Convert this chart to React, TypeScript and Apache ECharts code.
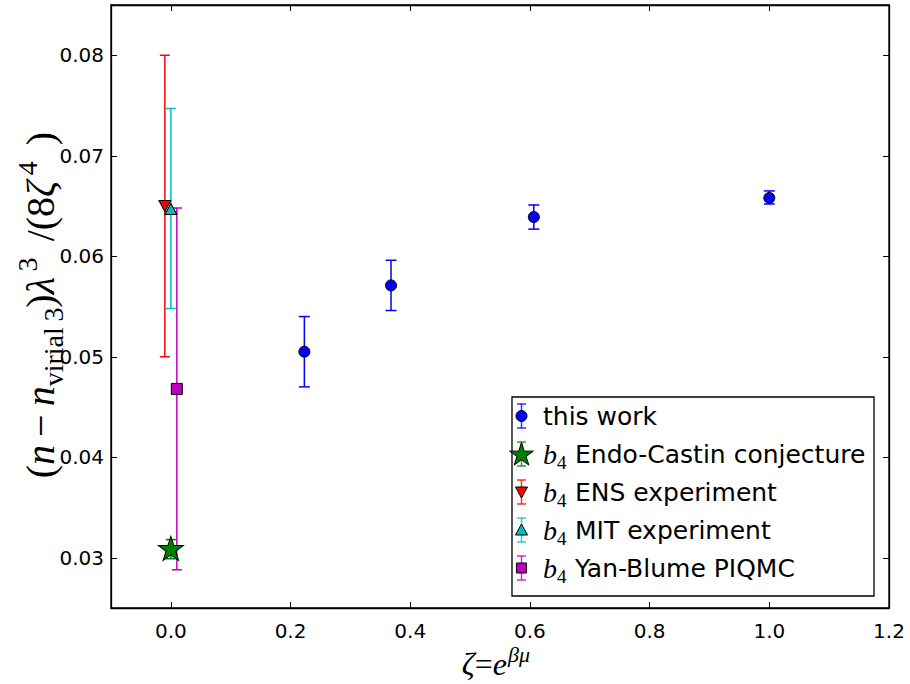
import React, { useEffect, useRef } from "react";
import * as echarts from "echarts";

// ---- data ----
const workX = [0.2231, 0.3679, 0.6065, 1.0];
const workY = [0.0505, 0.0571, 0.0639, 0.0658];
const workLo = [0.047, 0.0546, 0.0627, 0.0652];
const workHi = [0.054, 0.0596, 0.0651, 0.0665];

const endoX = [0.0];
const endoY = [0.0308];
const endoLo = [0.0299];
const endoHi = [0.0318];

const ensX = [-0.01];
const ensY = [0.065];
const ensLo = [0.05];
const ensHi = [0.08];

const mitX = [0.0];
const mitY = [0.0647];
const mitLo = [0.0548];
const mitHi = [0.0747];

const yanX = [0.01];
const yanY = [0.0468];
const yanLo = [0.0288];
const yanHi = [0.0648];

const xTicks = [0.0, 0.2, 0.4, 0.6, 0.8, 1.0, 1.2];
const yTicks = [0.03, 0.04, 0.05, 0.06, 0.07, 0.08];

const legendNames = [
  "this work",
  "Endo-Castin conjecture",
  "ENS experiment",
  "MIT experiment",
  "Yan-Blume PIQMC",
];

const C_WORK = "#0000ff";
const C_ENDO = "#008000";
const C_ENS = "#ff0000";
const C_MIT = "#00bfbf";
const C_YAN = "#bf00bf";

const STAR_PATH =
  "path://M0 -1 L0.2245 -0.309 L0.951 -0.309 L0.3633 0.118 L0.588 0.809 L0 0.382 L-0.588 0.809 L-0.3633 0.118 L-0.951 -0.309 L-0.2245 -0.309 Z";

const serif = "Liberation Serif";

function errSeries(name: string, xs: number[], ys: number[], lo: number[], hi: number[], color: string, cap: number) {
  return {
    type: "custom",
    name,
    data: xs.map((x, i) => [x, ys[i], lo[i], hi[i]]),
    encode: { x: 0, y: 1 },
    silent: true,
    renderItem: (params: any, api: any) => {
      const x = api.value(0);
      const top = api.coord([x, api.value(3)]);
      const bot = api.coord([x, api.value(2)]);
      const st = { stroke: color, lineWidth: 1.5 };
      return {
        type: "group",
        children: [
          { type: "line", shape: { x1: top[0], y1: top[1], x2: bot[0], y2: bot[1] }, style: st },
          { type: "line", shape: { x1: top[0] - cap, y1: top[1], x2: top[0] + cap, y2: top[1] }, style: st },
          { type: "line", shape: { x1: bot[0] - cap, y1: bot[1], x2: bot[0] + cap, y2: bot[1] }, style: st },
        ],
      };
    },
  };
}

function markSeries(name: string, xs: number[], ys: number[], color: string, symbol: string, size: any, extra: any = {}) {
  return {
    type: "scatter",
    name,
    data: xs.map((x, i) => [x, ys[i]]),
    symbol,
    symbolSize: size,
    itemStyle: { color, borderColor: "#000", borderWidth: 1, opacity: 1 },
    silent: true,
    ...extra,
  };
}

function starPoints(cx: number, cy: number, R: number) {
  const pts: number[][] = [];
  for (let k = 0; k < 10; k++) {
    const r = k % 2 === 0 ? R : R * 0.382;
    const a = (90 - 36 * k) * (Math.PI / 180);
    pts.push([cx + r * Math.cos(a), cy - r * Math.sin(a)]);
  }
  return pts;
}

function buildLegend() {
  const els: any[] = [];
  const bx = 512, by = 397, bw = 362, bh = 199;
  els.push({
    type: "rect",
    shape: { x: bx, y: by, width: bw, height: bh },
    style: { fill: "#fff", stroke: "#000", lineWidth: 1.3 },
    z: 100,
  });
  const rows = [416, 454, 492, 530, 568];
  const colors = [C_WORK, C_ENDO, C_ENS, C_MIT, C_YAN];
  const mx = 521.5;
  rows.forEach((ry, i) => {
    const c = colors[i];
    const st = { stroke: c, lineWidth: 1.5, opacity: 0.8 };
    els.push({ type: "line", shape: { x1: mx, y1: ry - 12, x2: mx, y2: ry + 12 }, style: st, z: 101 });
    els.push({ type: "line", shape: { x1: mx - 4.5, y1: ry - 12, x2: mx + 4.5, y2: ry - 12 }, style: st, z: 101 });
    els.push({ type: "line", shape: { x1: mx - 4.5, y1: ry + 12, x2: mx + 4.5, y2: ry + 12 }, style: st, z: 101 });
    const ms = { fill: c, stroke: "#000", lineWidth: 1 };
    if (i === 0) {
      els.push({ type: "circle", shape: { cx: mx, cy: ry, r: 5.5 }, style: ms, z: 102 });
    } else if (i === 1) {
      els.push({ type: "polygon", shape: { points: starPoints(mx, ry + 1, 12.5) }, style: ms, z: 102 });
    } else if (i === 2) {
      els.push({ type: "polygon", shape: { points: [[mx - 6, ry - 5], [mx + 6, ry - 5], [mx, ry + 6]] }, style: ms, z: 102 });
    } else if (i === 3) {
      els.push({ type: "polygon", shape: { points: [[mx - 6, ry + 5], [mx + 6, ry + 5], [mx, ry - 6]] }, style: ms, z: 102 });
    } else {
      els.push({ type: "rect", shape: { x: mx - 5, y: ry - 5, width: 10, height: 10 }, style: ms, z: 102 });
    }
    if (i === 0) {
      els.push({
        type: "text",
        x: 543,
        y: ry,
        style: { text: legendNames[i], fontFamily: "DejaVu Sans", fontSize: 25, fill: "#000", verticalAlign: "middle", align: "left" },
        z: 102,
      });
    } else {
      els.push({
        type: "text",
        x: 543,
        y: ry,
        style: { text: "b", fontFamily: serif, fontStyle: "italic", fontSize: 28, fill: "#000", verticalAlign: "middle", align: "left" },
        z: 102,
      });
      els.push({
        type: "text",
        x: 557,
        y: ry + 8,
        style: { text: "4", fontFamily: serif, fontSize: 19, fill: "#000", verticalAlign: "middle", align: "left" },
        z: 102,
      });
      els.push({
        type: "text",
        x: 575,
        y: ry,
        style: { text: legendNames[i], fontFamily: "DejaVu Sans", fontSize: 25, fill: "#000", verticalAlign: "middle", align: "left" },
        z: 102,
      });
    }
  });
  return els;
}

function buildAxisTitles() {
  const yMain = 40;
  const ySmall = 28;
  const yTitle = {
    type: "text",
    x: 40,
    y: 305,
    rotation: Math.PI / 2,
    style: {
      text: "{p|(}{i|n}{p|\u2009−\u2009}{i|n}{sub|virial\u20093}{p|)}{i|λ}{sup|\u20093}{p|\u2009\u2009/(8}{i|ζ}{sup|\u20094}{p|\u2009\u2009)}",
      align: "center",
      verticalAlign: "middle",
      fill: "#000",
      rich: {
        p: { fontFamily: serif, fontSize: yMain, lineHeight: 54, verticalAlign: "middle" },
        i: { fontFamily: serif, fontStyle: "italic", fontSize: yMain, lineHeight: 54, verticalAlign: "middle" },
        sup: { fontFamily: serif, fontSize: ySmall, lineHeight: 26, verticalAlign: "top" },
        sub: { fontFamily: serif, fontSize: ySmall, lineHeight: 34, verticalAlign: "bottom" },
      },
    },
    z: 50,
  };
  const xMain = {
    type: "text",
    x: 507,
    y: 664,
    style: {
      text: "{i|ζ}{p|=}{i|e}",
      align: "right",
      verticalAlign: "middle",
      fill: "#000",
      rich: {
        p: { fontFamily: serif, fontSize: 32, verticalAlign: "middle" },
        i: { fontFamily: serif, fontStyle: "italic", fontSize: 32, verticalAlign: "middle" },
      },
    },
    z: 50,
  };
  const xSup = {
    type: "text",
    x: 508,
    y: 643,
    style: {
      text: "βμ",
      align: "left",
      verticalAlign: "top",
      fill: "#000",
      fontFamily: serif,
      fontStyle: "italic",
      fontSize: 22,
    },
    z: 50,
  };
  return [yTitle, xMain, xSup];
}

export default function App() {
  const ref = useRef<HTMLDivElement>(null);
  useEffect(() => {
    if (!ref.current) return;
    const chart = echarts.init(ref.current, null, { renderer: "svg" });
    const axisLine = { show: true, onZero: false, lineStyle: { color: "#000", width: 1.3 } };
    const baseX = {
      type: "value",
      min: -0.1,
      max: 1.2,
      splitLine: { show: false },
      axisLine,
    };
    const baseY = {
      type: "value",
      min: 0.025,
      max: 0.085,
      splitLine: { show: false },
      axisLine,
    };
    const tickStyle = { color: "#000", width: 1 };
    const option: any = {
      animation: false,
      backgroundColor: "#fff",
      grid: {
        left: 111,
        right: 21,
        top: 5,
        bottom: 76,
        show: true,
        borderColor: "#000",
        borderWidth: 1.3,
        backgroundColor: "transparent",
        outerBoundsMode: "none",
        containLabel: false,
      },
      xAxis: [
        {
          ...baseX,
          position: "bottom",
          axisTick: { show: true, inside: true, length: 6, customValues: xTicks, lineStyle: tickStyle },
          axisLabel: {
            show: true,
            customValues: xTicks,
            formatter: (v: number) => v.toFixed(1),
            fontFamily: "DejaVu Sans",
            fontSize: 20,
            color: "#000",
            margin: 13,
          },
        },
        {
          ...baseX,
          position: "top",
          axisTick: { show: true, inside: true, length: 6, customValues: xTicks, lineStyle: tickStyle },
          axisLabel: { show: false },
        },
      ],
      yAxis: [
        {
          ...baseY,
          position: "left",
          axisTick: { show: true, inside: true, length: 6, customValues: yTicks, lineStyle: tickStyle },
          axisLabel: {
            show: true,
            customValues: yTicks,
            formatter: (v: number) => v.toFixed(2),
            fontFamily: "DejaVu Sans",
            fontSize: 20,
            color: "#000",
            margin: 7,
          },
        },
        {
          ...baseY,
          position: "right",
          axisTick: { show: true, inside: true, length: 6, customValues: yTicks, lineStyle: tickStyle },
          axisLabel: { show: false },
        },
      ],
      series: [
        errSeries("this work err", workX, workY, workLo, workHi, C_WORK, 5.5),
        markSeries("this work", workX, workY, C_WORK, "circle", 11),
        errSeries("endo err", endoX, endoY, endoLo, endoHi, C_ENDO, 5),
        markSeries("Endo-Castin", endoX, endoY, C_ENDO, STAR_PATH, [25, 24], { symbolOffset: [0, -1.3] }),
        errSeries("ens err", ensX, ensY, ensLo, ensHi, C_ENS, 5),
        markSeries("ENS", ensX, ensY, C_ENS, "triangle", [12, 11], { symbolRotate: 180 }),
        errSeries("mit err", mitX, mitY, mitLo, mitHi, C_MIT, 5),
        markSeries("MIT", mitX, mitY, C_MIT, "triangle", [12, 11]),
        errSeries("yan err", yanX, yanY, yanLo, yanHi, C_YAN, 5),
        markSeries("Yan-Blume", yanX, yanY, C_YAN, "rect", [11, 11]),
      ],
      graphic: [...buildAxisTitles(), ...buildLegend()],
    };
    chart.setOption(option);
    return () => chart.dispose();
  }, []);
  return <div ref={ref} style={{ position: "absolute", left: 0, top: 0, width: 910, height: 684 }} />;
}
